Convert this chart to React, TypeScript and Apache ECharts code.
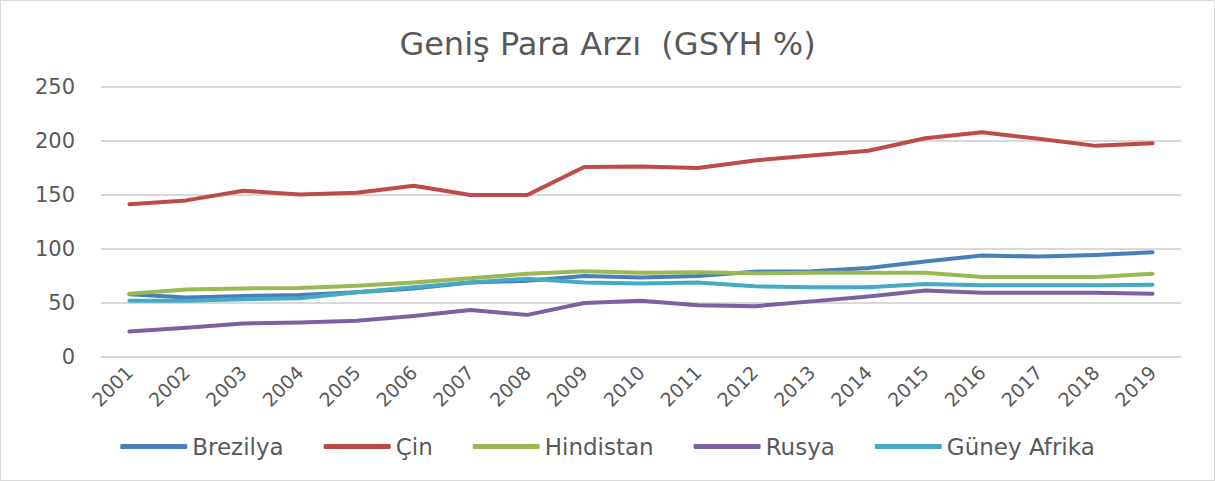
import React, { useEffect, useRef } from "react";
import * as echarts from "echarts";

const years = ["2001","2002","2003","2004","2005","2006","2007","2008","2009","2010","2011","2012","2013","2014","2015","2016","2017","2018","2019"];
const brezilya = [58, 55, 56.5, 57.5, 60, 63.5, 69, 70.5, 75, 73.5, 75, 79, 79.5, 82.5, 88.5, 94, 93, 94.5, 97];
const cin = [141.5, 145, 154, 150.5, 152, 158.5, 150, 150, 176, 176.5, 175, 182, 186.5, 191, 202.5, 208, 202, 195.5, 198];
const hindistan = [58.5, 62.5, 63.5, 64, 66, 69, 73, 77, 79.5, 78, 78.5, 77.5, 78, 78, 78, 74, 74, 74, 77];
const rusya = [23.5, 27, 31, 32, 33.5, 38, 43.5, 39, 50, 52, 48, 47, 51.5, 56, 61.5, 59.5, 59.5, 59.5, 58.5];
const guneyAfrika = [52, 52, 53.5, 54.5, 60, 64.5, 69, 72.5, 69, 68, 69, 65.5, 64.5, 64.5, 67.5, 66.5, 66.5, 66.5, 67];
const yTicks = [0, 50, 100, 150, 200, 250];

const names = ["Brezilya", "Çin", "Hindistan", "Rusya", "Güney Afrika"];
const colors = ["#4A7EBB", "#BE4B48", "#98B954", "#7D60A0", "#46AAC5"];
const seriesData = [brezilya, cin, hindistan, rusya, guneyAfrika];

const FONT = "'DejaVu Sans', 'Noto Sans', sans-serif";

export default function App() {
  const ref = useRef<HTMLDivElement>(null);
  useEffect(() => {
    document.body.style.margin = "0";
    if (!ref.current) return;
    const chart = echarts.init(ref.current, undefined, { renderer: "svg" });
    chart.setOption({
      animation: false,
      backgroundColor: "#ffffff",
      title: {
        text: "Geniş Para Arzı  (GSYH %)",
        left: "center",
        top: 22,
        textStyle: { fontFamily: FONT, fontSize: 32, fontWeight: "normal", color: "#595959" },
      },
      grid: { left: 100, right: 33, top: 86, bottom: 123, containLabel: false },
      legend: {
        bottom: 17,
        left: "center",
        itemWidth: 67,
        itemHeight: 5,
        itemGap: 40,
        icon: "roundRect",
        textStyle: { fontFamily: FONT, fontSize: 23, color: "#595959" },
        data: names,
      },
      xAxis: {
        type: "category",
        data: years,
        boundaryGap: true,
        axisLine: { lineStyle: { color: "#d9d9d9", width: 1 } },
        axisTick: { show: false },
        axisLabel: { rotate: 45, fontFamily: FONT, fontSize: 19, color: "#595959", margin: 12, interval: 0 },
      },
      yAxis: {
        type: "value",
        min: yTicks[0],
        max: yTicks[yTicks.length - 1],
        interval: 50,
        axisLine: { show: false },
        axisTick: { show: false },
        axisLabel: { fontFamily: FONT, fontSize: 21, color: "#595959", margin: 26 },
        splitLine: { lineStyle: { color: "#d9d9d9", width: 2 } },
      },
      series: names.map((n, i) => ({
        name: n,
        type: "line",
        data: seriesData[i],
        showSymbol: false,
        symbol: "none",
        lineStyle: { color: colors[i], width: 4, cap: "round", join: "round" },
        itemStyle: { color: colors[i] },
      })),
    });
    return () => chart.dispose();
  }, []);
  return (
    <div style={{ width: 1215, height: 481, position: "relative", boxSizing: "border-box", border: "1px solid #d9d9d9" }}>
      <div ref={ref} style={{ width: 1213, height: 479 }} />
    </div>
  );
}
